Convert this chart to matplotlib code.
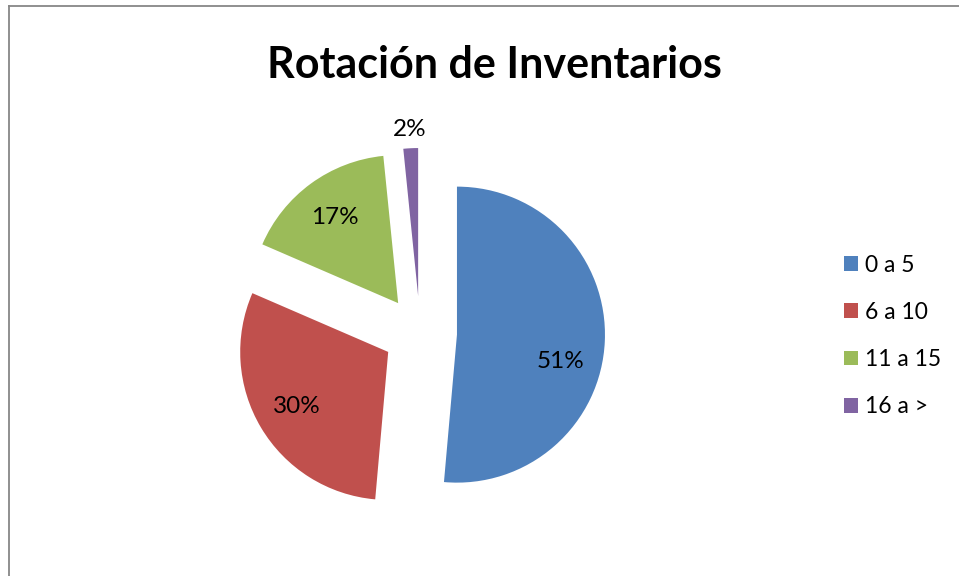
import matplotlib
matplotlib.use('Agg')
from matplotlib import pyplot as plt
from matplotlib.lines import Line2D
import math

plt.rcParams['font.family'] = ['Lato', 'DejaVu Sans']

categories = ['0 a 5', '6 a 10', '11 a 15', '16 a >']
values = [51.4, 30.1, 16.9, 1.6]
colors = ['#4F81BD', '#C0504D', '#9BBB59', '#8064A2']
title = 'Rotación de Inventarios'

W, H = 959, 576
R = 148.0          # pie radius in pixels
cx, cy = 420, 333  # pie centre in pixels (from top-left)

fig = plt.figure(figsize=(W / 100, H / 100), dpi=100)
ax = fig.add_axes([0, 0, 1, 1])
ax.axis('off')

wedges, texts, autotexts = ax.pie(
    values, colors=colors, startangle=90, counterclock=False,
    explode=[0.25] * len(values), radius=1, pctdistance=0.72,
    autopct='%1.0f%%', wedgeprops=dict(linewidth=0),
    textprops=dict(fontsize=17.5, color='black'))
ax.set_xlim(-cx / R, (W - cx) / R)
ax.set_ylim(-(H - cy) / R, cy / R)

# excel puts the big label a bit lower and the tiny slice label outside
x0, y0 = autotexts[0].get_position()
autotexts[0].set_position((x0 - 0.02, y0 - 0.15))
w = wedges[3]
tm = math.radians((w.theta1 + w.theta2) / 2)
autotexts[3].set_position((w.center[0] + 1.13 * math.cos(tm),
                           w.center[1] + 1.13 * math.sin(tm)))

fig.text(494 / W, 1 - 78 / H, title, ha='center', va='baseline',
         fontsize=31, fontweight='bold')

leg = ax.legend(wedges, categories, loc='center left',
                bbox_to_anchor=(835 / W, 1 - 336 / H),
                bbox_transform=fig.transFigure, frameon=False,
                fontsize=16.5, handlelength=0.62, handleheight=0.62,
                handletextpad=0.3, labelspacing=1.14, borderaxespad=0)

# chart frame (left and top edges visible)
fig.add_artist(Line2D([8.5 / W, 8.5 / W], [0, 1 - 5.5 / H],
                      transform=fig.transFigure, color='#878787', lw=1.3))
fig.add_artist(Line2D([8.5 / W, 1], [1 - 5.5 / H, 1 - 5.5 / H],
                      transform=fig.transFigure, color='#878787', lw=1.3))

fig.savefig('out.png', dpi=100)
